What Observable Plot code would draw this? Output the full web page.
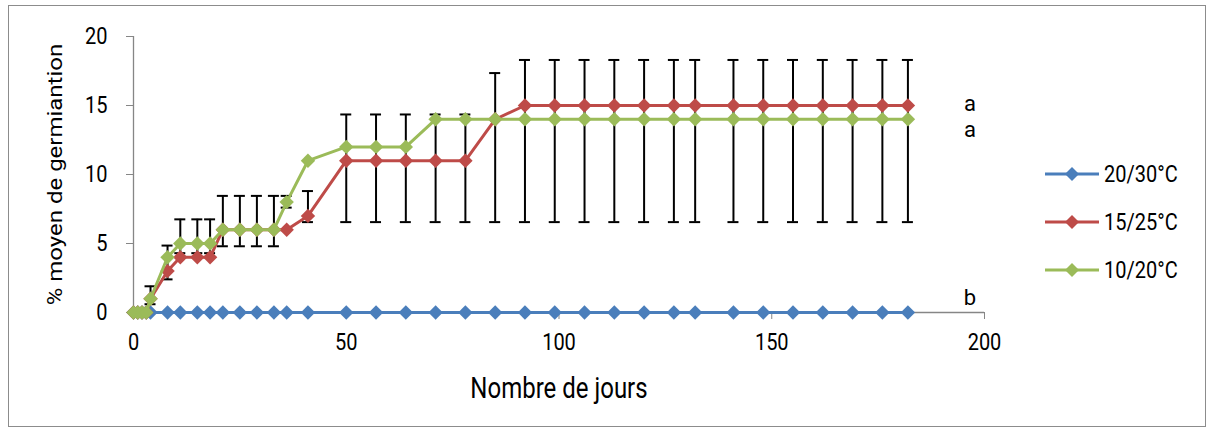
<!DOCTYPE html>
<html>
<head>
<meta charset="utf-8">
<script src="https://cdn.jsdelivr.net/npm/d3@7"></script>
<script src="https://cdn.jsdelivr.net/npm/@observablehq/plot@0.6"></script>
<style>
  body { margin: 0; background: #fff; }
  #wrap { position: relative; width: 1214px; height: 432px; overflow: hidden; font-family: Roboto, sans-serif; }
  #frame { position: absolute; left: 8px; top: 5px; width: 1198px; height: 422px; border: 1px solid #8c8c8c; box-sizing: border-box; }
  #wrap svg.main { position: absolute; left: 0; top: 0; }
  .lg { position: absolute; left: 1045px; height: 30px; width: 165px; }
  .lg svg { position: absolute; left: 0; top: 0; }
  .lg span { position: absolute; left: 59px; top: 2px; font-size: 20px; line-height: 26px; color: #000; display: inline-block; transform: scaleY(1.2); transform-origin: 50% 50%; white-space: nowrap; }
</style>
</head>
<body>
<div id="wrap"><div id="frame"></div></div>
<script>
// ---- data ----
const days = [0, 1, 2, 3, 4, 8, 11, 15, 18, 21, 25, 29, 33, 36, 41, 50, 57, 64, 71, 78, 85,
              92, 99, 106, 113, 120, 127, 132, 141, 148, 155, 162, 169, 176, 182];
const series2030 = [0, 0, 0, 0, 0, 0, 0, 0, 0, 0, 0, 0, 0, 0, 0, 0, 0, 0, 0, 0, 0,
                    0, 0, 0, 0, 0, 0, 0, 0, 0, 0, 0, 0, 0, 0];
const series1525 = [0, 0, 0, 0, 1, 3, 4, 4, 4, 6, 6, 6, 6, 6, 7, 11, 11, 11, 11, 11, 14,
                    15, 15, 15, 15, 15, 15, 15, 15, 15, 15, 15, 15, 15, 15];
const series1020 = [0, 0, 0, 0, 1, 4, 5, 5, 5, 6, 6, 6, 6, 8, 11, 12, 12, 12, 14, 14, 14,
                    14, 14, 14, 14, 14, 14, 14, 14, 14, 14, 14, 14, 14, 14];
const errLow  = [null, null, null, null, 0.6, 2.4, 4.3, 4.3, 4.3, 4.8, 4.8, 4.8, 4.8, 7.6, 6.55, 6.55, 6.55, 6.55, 6.55, 6.55, 6.55,
                 6.55, 6.55, 6.55, 6.55, 6.55, 6.55, 6.55, 6.55, 6.55, 6.55, 6.55, 6.55, 6.55, 6.55];
const errHigh = [null, null, null, null, 1.9, 4.85, 6.75, 6.75, 6.75, 8.45, 8.45, 8.45, 8.45, 8.45, 8.8, 14.35, 14.35, 14.35, 14.35, 14.35, 17.35,
                 18.3, 18.3, 18.3, 18.3, 18.3, 18.3, 18.3, 18.3, 18.3, 18.3, 18.3, 18.3, 18.3, 18.3];
const seriesNames = ["20/30°C", "15/25°C", "10/20°C"];
const seriesColors = ["#4A7EBB", "#BE4B48", "#9BBB59"];
const groupLetters = ["b", "a", "a"];
const xTicks = [0, 50, 100, 150, 200];
const yTicks = [0, 5, 10, 15, 20];
const xTitle = "Nombre de jours";
const yTitle = "% moyen de germiantion";

// ---- build tables ----
const allSeries = [series2030, series1525, series1020];
const tables = allSeries.map((vals, k) => days.map((d, i) => ({day: d, value: vals[i], series: seriesNames[k]})));
const errRows = days.map((d, i) => ({day: d, lo: errLow[i], hi: errHigh[i]})).filter(r => r.lo != null);
const last = days.length - 1;
const letterRows = allSeries.map((vals, k) => ({day: days[last], value: vals[last], text: groupLetters[k]}));
const letterDy = [-15, -2, 11];

const marks = [
  Plot.ruleY([0], {stroke: "#868686", strokeWidth: 1.3}),
  Plot.ruleX([0], {stroke: "#868686", strokeWidth: 1.3}),
  Plot.axisX({ticks: xTicks, tickSize: 7, tickPadding: 15, stroke: "#868686", fontSize: 20,
              label: xTitle, labelAnchor: "center", labelOffset: 84, labelArrow: "none"}),
  Plot.axisY({ticks: yTicks, tickSize: 7, tickPadding: 19, stroke: "#868686", fontSize: 20,
              label: yTitle, labelAnchor: "center", labelOffset: 86, labelArrow: "none"}),
  Plot.ruleX(errRows, {x: "day", y1: "lo", y2: "hi", stroke: "#000", strokeWidth: 2}),
  Plot.ruleY(errRows, {y: "lo", x1: "day", x2: "day", insetLeft: -5.5, insetRight: -5.5, stroke: "#000", strokeWidth: 2}),
  Plot.ruleY(errRows, {y: "hi", x1: "day", x2: "day", insetLeft: -5.5, insetRight: -5.5, stroke: "#000", strokeWidth: 2})
];
tables.forEach((t, k) => {
  marks.push(Plot.line(t, {x: "day", y: "value", stroke: seriesColors[k], strokeWidth: 3}));
  marks.push(Plot.dot(t, {x: "day", y: "value", fill: seriesColors[k], symbol: "diamond2", r: 6.5}));
});
letterRows.forEach((r, k) => {
  marks.push(Plot.text([r], {x: "day", y: "value", text: "text", dx: 62, dy: letterDy[k], fontSize: 22, fill: "#000", className: "letter"}));
});

const svg = Plot.plot({
  width: 1214, height: 432,
  marginLeft: 133, marginRight: 230, marginTop: 36, marginBottom: 120,
  style: {fontFamily: "Roboto, sans-serif", fontSize: "20px", background: "transparent", overflow: "visible", color: "#000"},
  x: {domain: [0, 200]},
  y: {domain: [0, 20]},
  marks
});
svg.classList.add("main");
document.getElementById("wrap").appendChild(svg);

// title size: x title a bit wider as in the reference
svg.querySelectorAll("text").forEach(t => {
  if (t.textContent === xTitle) t.setAttribute("font-size", 24);
});

// vertical stretch of text, as in the reference picture (not the small letters)
const STRETCH = 1.2;
svg.querySelectorAll("text").forEach(t => {
  if (t.closest(".letter")) return;
  const b = t.getBBox();
  if (!b.width) return;
  const cx = b.x + b.width / 2, cy = b.y + b.height / 2;
  const tr = t.getAttribute("transform") || "";
  const ptr = (t.parentNode && t.parentNode.getAttribute && t.parentNode.getAttribute("transform")) || "";
  const rotated = /rotate/.test(tr) || /rotate/.test(ptr);
  const s = rotated ? `scale(${STRETCH},1)` : `scale(1,${STRETCH})`;
  t.setAttribute("transform", `${tr} translate(${cx},${cy}) ${s} translate(${-cx},${-cy})`);
});

// legend
const wrap = d3.select("#wrap");
seriesNames.forEach((name, k) => {
  const item = wrap.append("div").attr("class", "lg").style("top", (159 + 48 * k) + "px");
  const s = item.append("svg").attr("width", 56).attr("height", 30);
  s.append("line").attr("x1", 0).attr("x2", 54).attr("y1", 15).attr("y2", 15)
    .attr("stroke", seriesColors[k]).attr("stroke-width", 3);
  s.append("path").attr("d", "M27,8L34,15L27,22L20,15Z").attr("fill", seriesColors[k]);
  item.append("span").text(name);
});
</script>
</body>
</html>
